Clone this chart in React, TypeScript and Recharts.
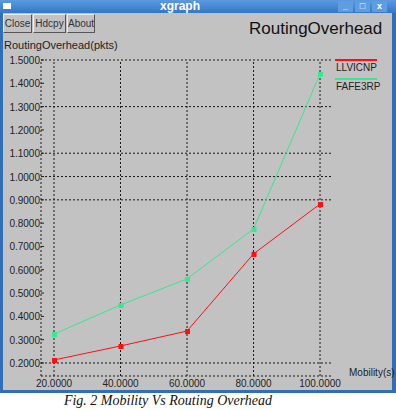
import { Line, LineChart, ReferenceLine, XAxis, YAxis } from "recharts";

const mobility = [20, 40, 60, 80, 100];
const llvicnp = [0.213, 0.273, 0.337, 0.668, 0.882];
const fafe3rp = [0.324, 0.449, 0.561, 0.775, 1.44];
const yTicks = [1.5, 1.4, 1.3, 1.2, 1.1, 1.0, 0.9, 0.8, 0.7, 0.6, 0.5, 0.4, 0.3, 0.2];
const gridY = [1.5, 1.3, 1.1, 1.0, 0.9, 0.2];
const seriesNames = ["LLVICNP", "FAFE3RP"];
const seriesColors = ["#ff1010", "#38e890"];

const X_MIN = 16.09;
const X_MAX = 103.9;
const Y_MIN = 0.1442;
const Y_MAX = 1.5;

const data = mobility.map((m, i) => ({ m, a: llvicnp[i], b: fafe3rp[i] }));

const FONT = "'Liberation Sans', Arial, sans-serif";
const GRID = { stroke: "#1a1a1a", strokeDasharray: "2 2", strokeWidth: 1 };

function SquareDot(color: string) {
  return (props: any) => {
    const { cx, cy, index } = props;
    if (cx == null || cy == null) return null;
    return <rect key={index} x={cx - 2} y={cy - 2} width={5} height={5} fill={color} />;
  };
}

function YTick(props: any) {
  const { y, payload } = props;
  return (
    <g>
      <text x={40} y={y + 4} textAnchor="end" fontSize={10} fill="#222" fontFamily={FONT}>
        {payload.value.toFixed(4)}
      </text>
      <line x1={41} x2={44} y1={y} y2={y} stroke="#222" />
    </g>
  );
}

function XTick(props: any) {
  const { x, payload } = props;
  return (
    <text x={x} y={387} textAnchor="middle" fontSize={10} fill="#222" fontFamily={FONT}>
      {payload.value.toFixed(4)}
    </text>
  );
}

function LegendBox() {
  return (
    <svg width={60} height={40} style={{ position: "absolute", left: 335, top: 59 }}>
      {seriesNames.map((n, i) => (
        <g key={n}>
          <line x1={0} x2={42} y1={1 + i * 19} y2={1 + i * 19} stroke={seriesColors[i]} strokeWidth={2} />
          <text x={1} y={12 + i * 19} fontSize={10} fill="#222" fontFamily={FONT}>
            {n}
          </text>
        </g>
      ))}
    </svg>
  );
}

function Btn({ left, width, label }: { left: number; width: number; label: string }) {
  return (
    <div
      style={{
        position: "absolute",
        left,
        top: 14,
        width,
        height: 19,
        boxSizing: "border-box",
        border: "1px solid #555",
        borderTopColor: "#eee",
        borderLeftColor: "#eee",
        fontFamily: FONT,
        fontSize: 10,
        color: "#333",
        textAlign: "center",
        lineHeight: "17px",
      }}
    >
      {label}
    </div>
  );
}

export default function App() {
  return (
    <div style={{ position: "absolute", left: 0, top: 0, width: 396, height: 410, background: "#fff", overflow: "hidden" }}>
      <div style={{ position: "absolute", left: 0, top: 0, width: 396, height: 393, background: "#2f6fba" }} />
      <div
        style={{
          position: "absolute",
          left: 0,
          top: 0,
          width: 396,
          height: 13,
          background: "linear-gradient(#5b9ae0, #3577c6)",
        }}
      />
      <div style={{ position: "absolute", left: 3, top: 3, width: 8, height: 6, background: "#fff" }} />
      <div
        style={{
          position: "absolute",
          left: 160,
          top: -1,
          fontFamily: FONT,
          fontWeight: "bold",
          fontSize: 12,
          color: "#fff",
        }}
      >
        xgraph
      </div>
      {["_", "\u25a1", "x"].map((s, i) => (
        <div
          key={s}
          style={{
            position: "absolute",
            left: 338 + i * 17,
            top: 1,
            width: 15,
            height: 11,
            background: "#5d9de2",
            color: "#fff",
            fontFamily: FONT,
            fontSize: 9,
            fontWeight: "bold",
            textAlign: "center",
            lineHeight: "10px",
          }}
        >
          {s}
        </div>
      ))}
      <div style={{ position: "absolute", left: 3, top: 13, width: 389, height: 377, background: "#c2c2c2" }} />
      <Btn left={3} width={29} label="Close" />
      <Btn left={33} width={33} label="Hdcpy" />
      <Btn left={67} width={28} label="About" />
      <div style={{ position: "absolute", left: 249, top: 19, fontFamily: FONT, fontSize: 17, color: "#111" }}>
        RoutingOverhead
      </div>
      <div style={{ position: "absolute", left: 4, top: 39, fontFamily: FONT, fontSize: 11, color: "#222" }}>
        RoutingOverhead(pkts)
      </div>
      <div style={{ position: "absolute", left: 349, top: 367, fontFamily: FONT, fontSize: 10, color: "#222" }}>
        Mobility(s)
      </div>
      <div
        style={{
          position: "absolute",
          left: 0,
          top: 393,
          width: 336,
          textAlign: "center",
          fontFamily: "'Liberation Serif', 'Times New Roman', serif",
          fontStyle: "italic",
          fontSize: 14,
          color: "#111",
        }}
      >
        Fig. 2 Mobility Vs Routing Overhead
      </div>
      <div style={{ position: "absolute", left: 0, top: 0 }}>
        <LineChart width={396} height={393} data={data} margin={{ top: 60, right: 63, left: 0, bottom: 5 }}>
          <XAxis
            dataKey="m"
            type="number"
            domain={[X_MIN, X_MAX]}
            ticks={mobility}
            tick={<XTick />}
            axisLine={false}
            tickLine={false}
            height={12}
            allowDataOverflow
          />
          <YAxis
            type="number"
            domain={[Y_MIN, Y_MAX]}
            ticks={yTicks}
            tick={<YTick />}
            axisLine={false}
            tickLine={false}
            width={41}
            allowDataOverflow
            interval={0}
          />
          {gridY.map((v) => (
            <ReferenceLine key={"h" + v} y={v} {...GRID} />
          ))}
          {mobility.map((v) => (
            <ReferenceLine key={"v" + v} x={v} {...GRID} />
          ))}
          <ReferenceLine x={X_MIN} {...GRID} />
          <ReferenceLine y={Y_MIN} {...GRID} />
          <Line
            dataKey="a"
            name={seriesNames[0]}
            stroke={seriesColors[0]}
            strokeWidth={1}
            dot={SquareDot(seriesColors[0])}
            isAnimationActive={false}
          />
          <Line
            dataKey="b"
            name={seriesNames[1]}
            stroke={seriesColors[1]}
            strokeWidth={1}
            dot={SquareDot(seriesColors[1])}
            isAnimationActive={false}
          />
        </LineChart>
      </div>
      <LegendBox />
    </div>
  );
}
